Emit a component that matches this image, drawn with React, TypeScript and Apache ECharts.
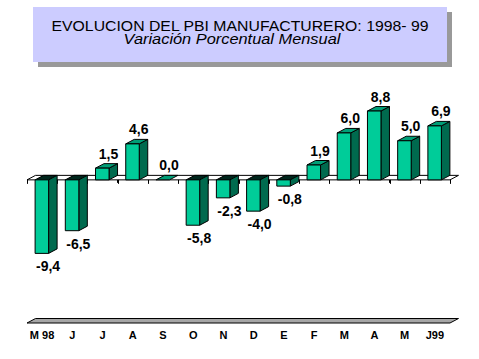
import React, { useEffect, useRef } from "react";
import * as echarts from "echarts";

const categories = ["M 98", "J", "J", "A", "S", "O", "N", "D", "E", "F", "M", "A", "M", "J99"];
const values = [-9.4, -6.5, 1.5, 4.6, 0.0, -5.8, -2.3, -4.0, -0.8, 1.9, 6.0, 8.8, 5.0, 6.9];
const titleLines = ["EVOLUCION DEL PBI MANUFACTURERO: 1998- 99", "Variación Porcentual Mensual"];

const FRONT = "#00CC99";
const SIDE = "#006A4E";
const TOP = "#009E76";
const TOP_NEG = "#00261C";
const DX = 8.5;
const DY = -4.5;

const fmt = (v: number) => v.toFixed(1).replace(".", ",");

export default function App() {
  const ref = useRef<HTMLDivElement>(null);
  useEffect(() => {
    if (!ref.current) return;
    const chart = echarts.init(ref.current, null, { renderer: "svg" });
    const stroke = { stroke: "#000", lineWidth: 1 };
    chart.setOption({
      animation: false,
      backgroundColor: "#fff",
      grid: { left: 27, right: 29, top: 86, bottom: 36 },
      xAxis: {
        type: "category",
        data: categories,
        axisLine: { show: false },
        axisTick: { show: true, length: 3, lineStyle: { color: "#000" } },
        axisLabel: {
          interval: 0,
          margin: 6,
          color: "#000",
          fontFamily: "Arial",
          fontWeight: "bold",
          fontSize: 11,
        },
        splitLine: { show: false },
      },
      yAxis: { type: "value", min: -18.3, max: 12, show: false },
      graphic: [
        { type: "rect", shape: { x: 38, y: 12, width: 414, height: 55 }, style: { fill: "#999999" } },
        { type: "rect", shape: { x: 33, y: 7, width: 414, height: 55 }, style: { fill: "#CCCCFF" } },
        {
          type: "text",
          x: 240,
          y: 26,
          scaleX: 1.13,
          style: {
            text: titleLines[0],
            font: "14px Arial",
            fill: "#000",
            textAlign: "center",
            textVerticalAlign: "middle",
            align: "center",
            verticalAlign: "middle",
          },
        },
        {
          type: "text",
          x: 232,
          y: 39,
          scaleX: 1.17,
          style: {
            text: titleLines[1],
            font: "italic 14px Arial",
            fill: "#000",
            textAlign: "center",
            textVerticalAlign: "middle",
            align: "center",
            verticalAlign: "middle",
          },
        },
      ],
      series: [
        {
          type: "custom",
          z: 1,
          silent: true,
          data: [[0, 0]],
          renderItem: (params: any, api: any) => {
            const cs = params.coordSys;
            const gx = cs.x;
            const gw = cs.width;
            const yb = cs.y + cs.height;
            const y0 = api.coord([0, 0])[1];
            const bw = api.size([1, 0])[0];
            const children: any[] = [];
            children.push({
              type: "polygon",
              shape: { points: [[gx, y0], [gx + gw, y0], [gx + gw + DX, y0 + DY], [gx + DX, y0 + DY]] },
              style: { fill: "#fff", ...stroke },
            });
            for (let k = 0; k <= categories.length; k++) {
              const x = Math.round(gx + k * bw) + 0.5;
              children.push({
                type: "line",
                shape: { x1: x, y1: y0, x2: x, y2: y0 + 4 },
                style: { ...stroke },
              });
            }
            children.push({
              type: "polygon",
              shape: { points: [[gx, yb], [gx + gw, yb], [gx + gw + DX, yb + DY], [gx + DX, yb + DY]] },
              style: { fill: "#A6A6A6", ...stroke },
            });
            return { type: "group", children };
          },
        },
        {
          type: "custom",
          z: 2,
          data: values.map((v, i) => [i, v]),
          renderItem: (params: any, api: any) => {
            const i = api.value(0);
            const v = api.value(1);
            const c0 = api.coord([i, 0]);
            const cx = c0[0];
            const y0 = c0[1];
            const yv = api.coord([i, v])[1];
            const bw = api.size([1, 0])[0];
            const fl = cx - bw * 0.232;
            const fr = cx + bw * 0.215;
            const children: any[] = [];
            if (v > 0) {
              children.push({
                type: "polygon",
                shape: { points: [[fr, y0], [fr + DX, y0 + DY], [fr + DX, yv + DY], [fr, yv]] },
                style: { fill: SIDE, ...stroke },
              });
              children.push({
                type: "polygon",
                shape: { points: [[fl, yv], [fr, yv], [fr + DX, yv + DY], [fl + DX, yv + DY]] },
                style: { fill: TOP, ...stroke },
              });
              children.push({
                type: "rect",
                shape: { x: fl, y: yv, width: fr - fl, height: y0 - yv },
                style: { fill: FRONT, ...stroke },
              });
            } else if (v < 0) {
              children.push({
                type: "polygon",
                shape: { points: [[fl, y0], [fr, y0], [fr + DX, y0 + DY], [fl + DX, y0 + DY]] },
                style: { fill: TOP_NEG, ...stroke },
              });
              children.push({
                type: "polygon",
                shape: { points: [[fr, y0], [fr + DX, y0 + DY], [fr + DX, yv + DY], [fr, yv]] },
                style: { fill: SIDE, ...stroke },
              });
              children.push({
                type: "rect",
                shape: { x: fl, y: y0, width: fr - fl, height: yv - y0 },
                style: { fill: FRONT, ...stroke },
              });
            } else {
              children.push({
                type: "polygon",
                shape: { points: [[fl, y0], [fr, y0], [fr + DX, y0 + DY], [fl + DX, y0 + DY]] },
                style: { fill: TOP, ...stroke },
              });
            }
            children.push({
              type: "text",
              style: {
                text: fmt(v),
                x: cx + 6,
                y: v >= 0 ? yv - 14.5 : yv + 13,
                font: "bold 14px Arial",
                fill: "#000",
                textAlign: "center",
                textVerticalAlign: "middle",
                align: "center",
                verticalAlign: "middle",
              },
            });
            return { type: "group", children };
          },
        },
      ],
    });
    return () => chart.dispose();
  }, []);
  return (
    <div
      ref={ref}
      style={{ position: "fixed", left: 0, top: 0, width: 479, height: 359, background: "#fff" }}
    />
  );
}
